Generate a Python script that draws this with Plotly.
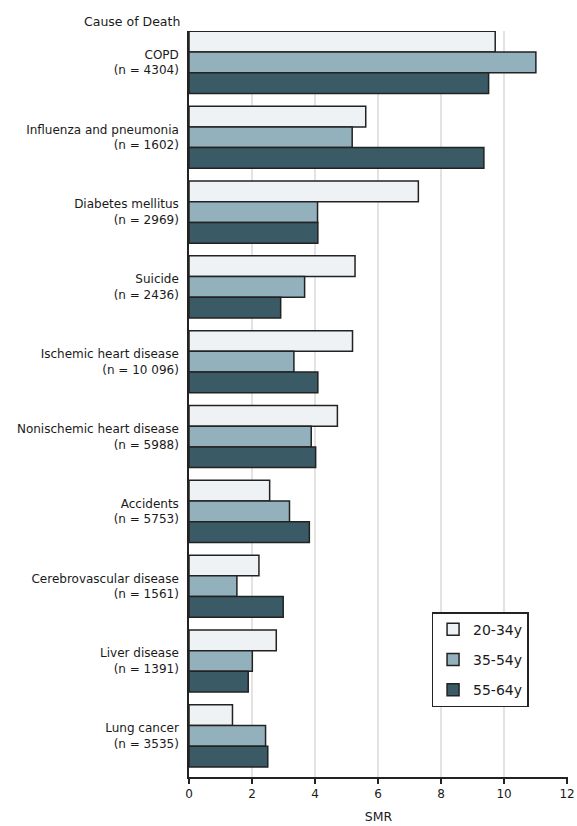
import plotly.graph_objects as go

# Causes of death with number of deaths
causes = [
    "COPD<br>(n = 4304)",
    "Influenza and pneumonia<br>(n = 1602)",
    "Diabetes mellitus<br>(n = 2969)",
    "Suicide<br>(n = 2436)",
    "Ischemic heart disease<br>(n = 10 096)",
    "Nonischemic heart disease<br>(n = 5988)",
    "Accidents<br>(n = 5753)",
    "Cerebrovascular disease<br>(n = 1561)",
    "Liver disease<br>(n = 1391)",
    "Lung cancer<br>(n = 3535)",
]

# Standardized mortality ratios by age group
smr_20_34 = [9.72, 5.61, 7.28, 5.27, 5.19, 4.71, 2.56, 2.22, 2.77, 1.38]
smr_35_54 = [11.01, 5.18, 4.08, 3.67, 3.33, 3.88, 3.19, 1.52, 2.01, 2.43]
smr_55_64 = [9.51, 9.36, 4.09, 2.91, 4.09, 4.02, 3.82, 2.99, 1.88, 2.50]

age_groups = ["20-34y", "35-54y", "55-64y"]
colors = ["#eef2f5", "#93b1bc", "#3a5a65"]
series = [smr_20_34, smr_35_54, smr_55_64]

x_ticks = [0, 2, 4, 6, 8, 10, 12]

FONT = "DejaVu Sans, Verdana, sans-serif"
INK = "#1a1a1a"

fig = go.Figure()
for name, vals, col in zip(age_groups, series, colors):
    fig.add_trace(go.Bar(
        y=causes, x=vals, name=name, orientation="h",
        marker=dict(color=col, line=dict(color="#222222", width=1.5)),
        legendgroup=name,
    ))

fig.update_layout(
    width=577, height=826,
    margin=dict(l=189, r=9, t=31, b=49, autoexpand=False),
    paper_bgcolor="white", plot_bgcolor="white",
    barmode="group", bargap=0.17, bargroupgap=0,
    font=dict(family=FONT, size=12, color=INK),
    showlegend=True,
    legend=dict(
        x=0.64, y=0.221, xanchor="left", yanchor="top",
        bgcolor="white", bordercolor="#222222", borderwidth=1.5,
        font=dict(size=14, color=INK),
        traceorder="grouped", tracegroupgap=9,
    ),
    xaxis=dict(
        range=[0, 12.03], tickvals=x_ticks, ticktext=[str(t) for t in x_ticks],
        showgrid=True, gridcolor="#e3e3e3", gridwidth=2,
        showline=True, linecolor="#222222", linewidth=1.5,
        ticks="outside", ticklen=5, tickcolor="#222222", tickwidth=1.5,
        tickfont=dict(size=12), ticklabeloverflow="allow", automargin=False,
        title=dict(text="SMR", font=dict(size=12.5), standoff=12),
        zeroline=False,
    ),
    yaxis=dict(
        categoryorder="array", categoryarray=causes,
        range=[9.55, -0.42], automargin=False,
        showline=True, linecolor="#222222", linewidth=1.5,
        showgrid=False, ticks="", ticklabelstandoff=6,
        tickfont=dict(size=12),
    ),
    annotations=[dict(
        text="Cause of Death", xref="paper", yref="paper",
        x=0, y=1, xanchor="right", yanchor="middle",
        xshift=-7, yshift=10, showarrow=False,
        font=dict(size=12.5, color=INK),
    )],
)

fig.write_html("out.html")
